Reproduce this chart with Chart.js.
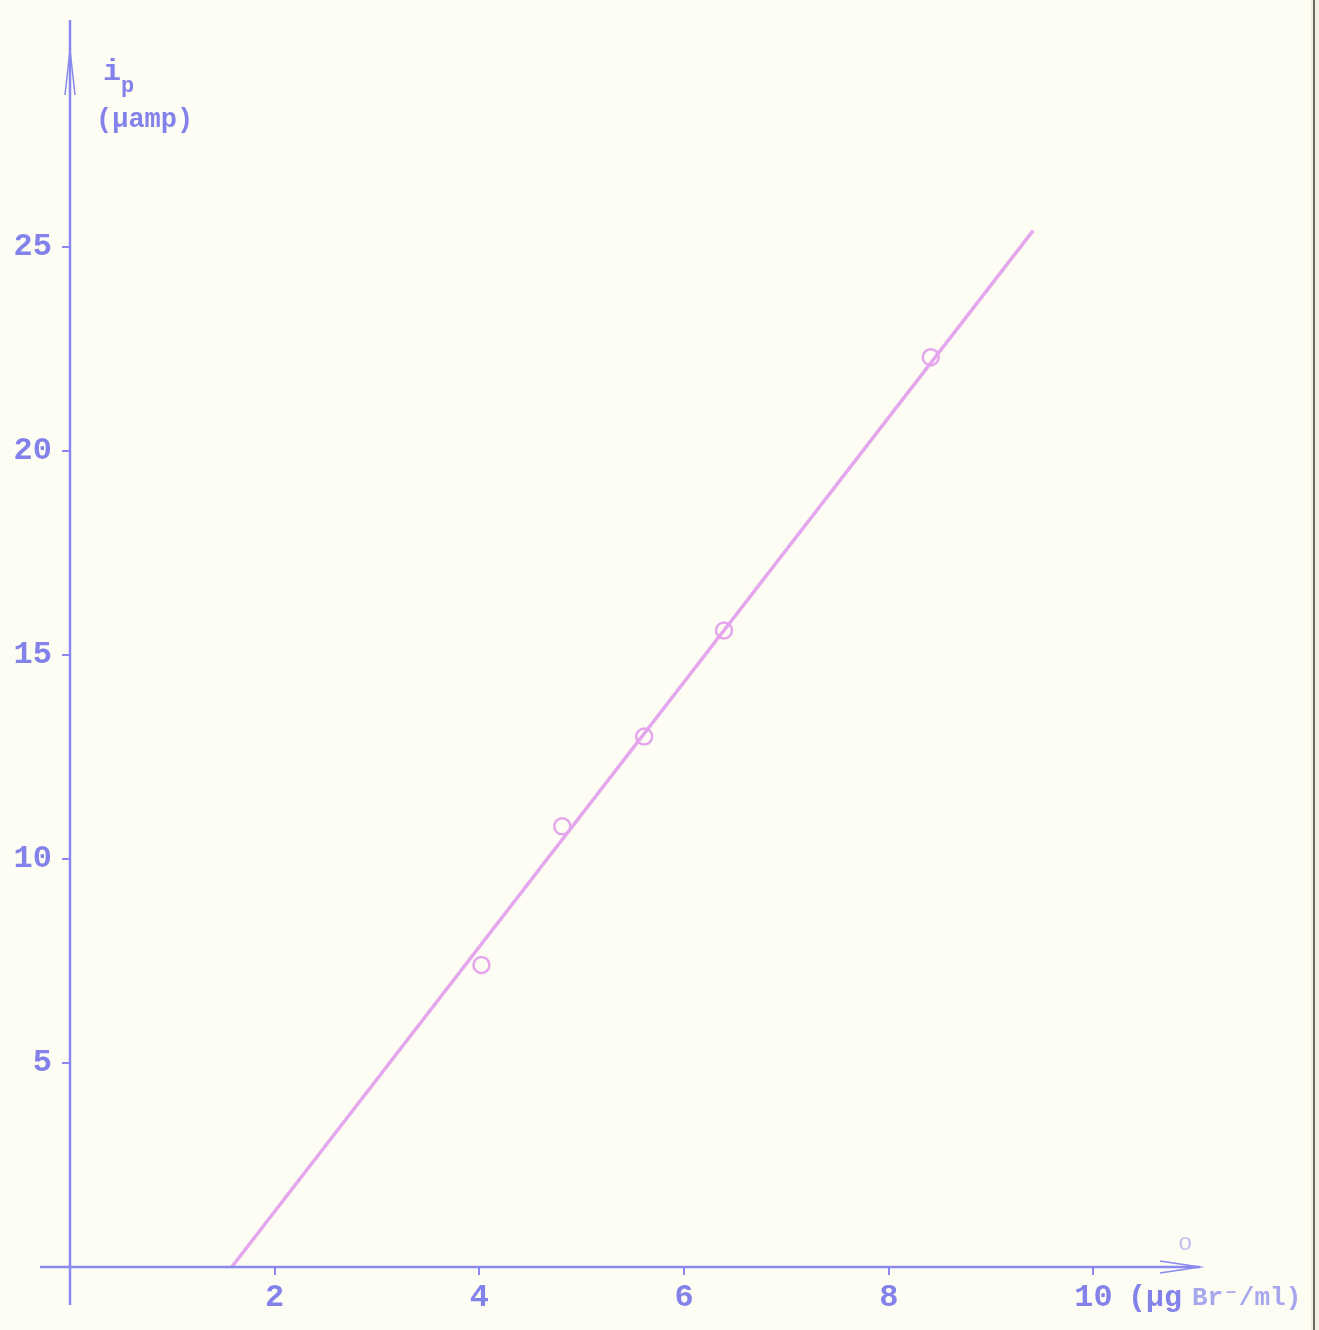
<!DOCTYPE html>
<html>
<head>
<meta charset="utf-8">
<script src="https://cdn.jsdelivr.net/npm/chart.js@4.4.0/dist/chart.umd.min.js"></script>
<style>
  html, body { margin: 0; padding: 0; background: #fefdf4; }
  #wrap { width: 1319px; height: 1330px; }
</style>
</head>
<body>
<div id="wrap"><canvas id="myChart" width="1319" height="1330"></canvas></div>
<script>
// Concentration (ug Br-/ml) vs peak current i_p (uamp)
const conc = [4.02, 4.81, 5.61, 6.39, 8.41];
const current = [7.4, 10.8, 13.0, 15.6, 22.3];

// fitted straight line, its two ends
const fitX = [1.58, 9.41];
const fitY = [0, 25.4];

const xTicks = [2, 4, 6, 8, 10];
const yTicks = [5, 10, 15, 20, 25];

const axisBlue = '#8888ee';
const textBlue = '#8282ea';
const pink = '#e4a6ec';
const typeFont = '"Liberation Mono", "DejaVu Sans Mono", monospace';

// paper, axes with arrows and the typed labels
const paperPlugin = {
    id: 'paper',
    beforeDraw(chart) {
        const ctx = chart.ctx;
        ctx.save();
        ctx.fillStyle = '#fefdf4';
        ctx.fillRect(0, 0, chart.width, chart.height);
        ctx.fillStyle = '#f3f1e2';
        ctx.fillRect(1311, 0, 8, chart.height);
        ctx.fillStyle = '#6a6a60';
        ctx.fillRect(1313, 0, 2, chart.height);
        ctx.restore();
    },
    afterDatasetsDraw(chart) {
        const ctx = chart.ctx;
        const xs = chart.scales.x;
        const ys = chart.scales.y;
        const x0 = xs.getPixelForValue(0);
        const y0 = ys.getPixelForValue(0);
        ctx.save();
        ctx.strokeStyle = axisBlue;
        ctx.lineWidth = 2.5;
        // y axis
        ctx.beginPath();
        ctx.moveTo(x0, 1305);
        ctx.lineTo(x0, 20);
        ctx.stroke();
        // x axis
        ctx.beginPath();
        ctx.moveTo(40, y0);
        ctx.lineTo(1200, y0);
        ctx.stroke();
        // arrow heads
        ctx.lineWidth = 1.5;
        ctx.beginPath();
        ctx.moveTo(x0 - 5, 95);
        ctx.lineTo(x0, 50);
        ctx.lineTo(x0 + 5, 95);
        ctx.moveTo(1160, y0 - 6);
        ctx.lineTo(1200, y0);
        ctx.lineTo(1160, y0 + 6);
        ctx.stroke();

        // axis titles
        ctx.fillStyle = textBlue;
        ctx.textBaseline = 'alphabetic';
        ctx.font = 'bold 30px ' + typeFont;
        ctx.fillText('i', 103, 80);
        ctx.font = 'bold 22px ' + typeFont;
        ctx.fillText('p', 121, 92);
        ctx.font = 'bold 27px ' + typeFont;
        ctx.fillText('(µamp)', 96, 127);

        ctx.font = 'bold 30px ' + typeFont;
        ctx.fillText('(µg', 1128, 1306);
        ctx.globalAlpha = 0.7;
        ctx.font = 'bold 26px ' + typeFont;
        ctx.fillText('Br⁻/ml)', 1192, 1305);
        ctx.globalAlpha = 0.5;
        ctx.font = '24px ' + typeFont;
        ctx.fillText('o', 1178, 1250);
        ctx.restore();
    }
};

const data = {
    datasets: [{
        label: 'fit',
        type: 'line',
        data: fitX.map((x, i) => ({ x: x, y: fitY[i] })),
        borderColor: pink,
        borderWidth: 3.5,
        pointRadius: 0,
        fill: false
    }, {
        label: 'measured',
        type: 'scatter',
        data: conc.map((x, i) => ({ x: x, y: current[i] })),
        borderColor: pink,
        backgroundColor: 'rgba(0,0,0,0)',
        borderWidth: 2.5,
        pointRadius: 8
    }]
};

const config = {
    type: 'scatter',
    data,
    plugins: [paperPlugin],
    options: {
        responsive: false,
        animation: false,
        layout: { padding: { top: 43, right: 72, left: 0, bottom: 0 } },
        plugins: {
            legend: { display: false },
            tooltip: { enabled: false }
        },
        scales: {
            x: {
                type: 'linear',
                min: 0,
                max: 11.5,
                afterFit: s => { s.height = 63; },
                afterBuildTicks: s => { s.ticks = xTicks.map(v => ({ value: v })); },
                border: { display: false },
                grid: { drawOnChartArea: false, drawTicks: true, tickLength: 8, color: axisBlue, lineWidth: 2 },
                ticks: {
                    color: textBlue,
                    font: { family: typeFont, size: 32, weight: 'bold' },
                    padding: 4
                }
            },
            y: {
                type: 'linear',
                min: 0,
                max: 30,
                afterFit: s => { s.width = 70; },
                afterBuildTicks: s => { s.ticks = yTicks.map(v => ({ value: v })); },
                border: { display: false },
                grid: { drawOnChartArea: false, drawTicks: true, tickLength: 8, color: axisBlue, lineWidth: 2 },
                ticks: {
                    color: textBlue,
                    font: { family: typeFont, size: 32, weight: 'bold' },
                    padding: 10
                }
            }
        }
    }
};

const myChart = new Chart(document.getElementById('myChart'), config);
</script>
</body>
</html>
